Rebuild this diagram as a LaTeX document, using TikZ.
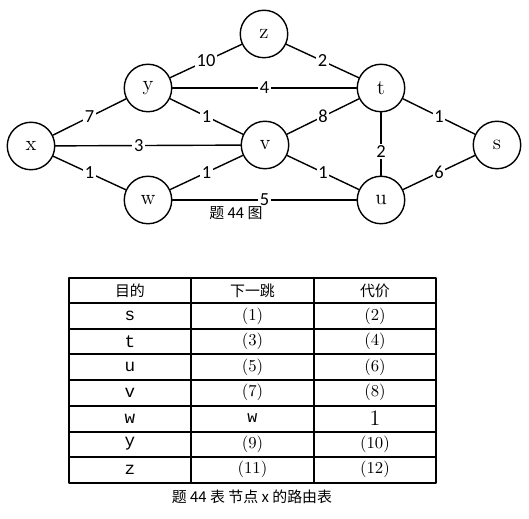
\documentclass[tikz,border=0pt]{standalone}
\usepackage{fontspec}
\newfontfamily\cjk{Noto Sans CJK SC}
\newfontfamily\wtfont{Carlito}
\newfontfamily\tabmono{Liberation Mono}
\tikzset{
  vertex/.style={circle, draw, line width=0.8pt, minimum size=0.95cm, inner sep=0pt, font=\fontsize{12}{13}\selectfont},
  edge/.style={line width=0.8pt},
  weight/.style={fill=white, inner sep=1pt, font=\wtfont\fontsize{10.5}{11}\selectfont},
  head/.style={font=\cjk\fontsize{8.5}{9}\selectfont},
  dest/.style={font=\tabmono\fontsize{10}{10}\selectfont},
  cell/.style={font=\fontsize{9.5}{10}\selectfont},
  captext/.style={font=\cjk\fontsize{8.5}{10}\selectfont},
}
\begin{document}
\begin{tikzpicture}[x=0.02cm, y=-0.02cm, line join=round, line cap=round]
  \useasboundingbox (0,0) rectangle (529,519);
  % Nodes of the network
  \node[vertex] (x) at (31,146) {x};
  \node[vertex] (y) at (148,88) {y};
  \node[vertex] (w) at (148,200) {w};
  \node[vertex] (v) at (265,145) {v};
  \node[vertex] (z) at (264,34) {z};
  \node[vertex] (t) at (381,88) {t};
  \node[vertex] (u) at (381,200) {u};
  \node[vertex] (s) at (497,145) {s};
  % Links with costs
  \draw[edge] (x) -- node[weight] {7} (y);
  \draw[edge] (x) -- node[weight, pos=0.45] {3} (v);
  \draw[edge] (x) -- node[weight] {1} (w);
  \draw[edge] (y) -- node[weight] {10} (z);
  \draw[edge] (y) -- node[weight] {4} (t);
  \draw[edge] (y) -- node[weight] {1} (v);
  \draw[edge] (w) -- node[weight] {1} (v);
  \draw[edge] (w) -- node[weight] {5} (u);
  \draw[edge] (z) -- node[weight] {2} (t);
  \draw[edge] (v) -- node[weight] {8} (t);
  \draw[edge] (v) -- node[weight] {1} (u);
  \draw[edge] (t) -- node[weight, pos=0.62] {2} (u);
  \draw[edge] (t) -- node[weight] {1} (s);
  \draw[edge] (u) -- node[weight] {6} (s);
  \node[captext] (figcap) at (236,213) {题 44 图};
  % Routing table of x
  \draw[line width=0.9pt] (69,278) rectangle (436,483);
  \foreach \yy in {303,329,354,380,406,432,457}
    \draw[line width=0.8pt] (69,\yy) -- (436,\yy);
  \draw[line width=0.8pt] (191,278) -- (191,483);
  \draw[line width=0.8pt] (314,278) -- (314,483);
  \node[head] (h1) at (130,290.5) {目的};
  \node[head] (h2) at (252.5,290.5) {下一跳};
  \node[head] (h3) at (375,290.5) {代价};
  \foreach \d/\h/\c [count=\i from 0] in {s/(1)/(2), t/(3)/(4), u/(5)/(6), v/(7)/(8), w/{\tabmono w}/{\fontsize{12.5}{12}\selectfont 1}, y/(9)/(10), z/(11)/(12)}{
    \node[dest] (d\i) at (130,{316+25.6*\i}) {\d};
    \node[cell] (n\i) at (252.5,{316+25.6*\i}) {\h};
    \node[cell] (c\i) at (375,{316+25.6*\i}) {\c};
  }
  \node[captext] (tabcap) at (252,497) {题 44 表\ 节点 x 的路由表};
\end{tikzpicture}
\end{document}
